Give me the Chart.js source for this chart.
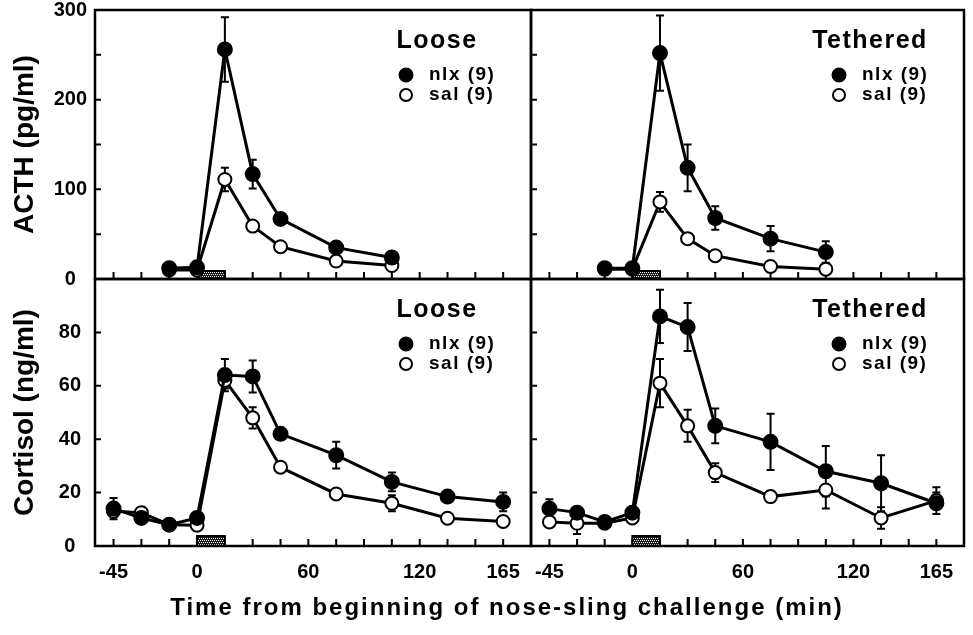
<!DOCTYPE html>
<html>
<head>
<meta charset="utf-8">
<script src="https://cdn.jsdelivr.net/npm/chart.js@4/dist/chart.umd.min.js"></script>
<style>
  html, body { margin: 0; padding: 0; background: #fff; }
  #figure { position: relative; width: 973px; height: 635px; }
  #figure canvas { position: absolute; left: 0; top: 0; }
</style>
</head>
<body>
<div id="figure">
  <canvas id="acthLoose" width="973" height="635"></canvas>
  <canvas id="acthTethered" width="973" height="635"></canvas>
  <canvas id="cortLoose" width="973" height="635"></canvas>
  <canvas id="cortTethered" width="973" height="635"></canvas>
</div>
<script>
// sampling times (min from start of nose-sling)
const acthTimes = [-15, 0, 15, 30, 45, 75, 105];
const cortTimes = [-45, -30, -15, 0, 15, 30, 45, 75, 105, 135, 165];
const xTickValues = [-45, -30, -15, 0, 15, 30, 45, 60, 75, 90, 105, 120, 135, 150, 165];
const xLabelValues = [-45, 0, 60, 120, 165];
const slingWindow = [0, 15];

// ACTH, pg/ml (mean and SEM)
const acthLooseNlx = [12, 13, 256, 117, 67, 35, 24];
const acthLooseNlxSem = [2, 2, 36, 16, 4, 3, 3];
const acthLooseSal = [10, 10, 111, 59, 36, 20, 15];
const acthLooseSalSem = [2, 2, 13, 4, 3, 2, 2];
const acthTethNlx = [12, 12, 252, 124, 68, 45, 30];
const acthTethNlxSem = [2, 2, 42, 26, 13, 14, 12];
const acthTethSal = [11, 11, 86, 45, 26, 14, 11];
const acthTethSalSem = [2, 2, 11, 4, 3, 2, 2];

// cortisol, ng/ml (mean and SEM)
const cortLooseNlx = [14, 10.5, 8, 10.5, 64, 63.5, 42, 34, 24, 18.5, 16.5];
const cortLooseNlxSem = [4, 1.5, 1.5, 1.5, 6, 6, 1.5, 5, 3.5, 1.5, 3.5];
const cortLooseSal = [13, 12.5, 8, 7.8, 62, 48, 29.5, 19.5, 16, 10.4, 9.2];
const cortLooseSalSem = [2, 1.5, 1, 1, 3, 4, 1.5, 1.5, 3, 1.5, 2];
const cortTethNlx = [14, 12.5, 9, 12.5, 86, 82, 45, 39, 28, 23.5, 16];
const cortTethNlxSem = [3.5, 1.5, 1.5, 1.5, 10, 9, 6.5, 10.5, 9.5, 10.5, 4];
const cortTethSal = [9, 8.5, 8.5, 10.5, 61, 45, 27.5, 18.5, 21, 10.5, 17];
const cortTethSalSem = [1.5, 4, 1, 1.5, 9, 6, 3.5, 1.5, 7, 4, 5];

const fontFamily = "'Liberation Sans', Arial, Helvetica, sans-serif";

// stippled fill for the sling bar
const stipple = (() => {
  const c = document.createElement('canvas');
  c.width = 4; c.height = 4;
  const g = c.getContext('2d');
  g.fillStyle = '#1a1a1a';
  g.fillRect(0, 0, 4, 4);
  g.fillStyle = '#fff';
  [[0, 0], [2, 0], [1, 2], [3, 2]].forEach(([px, py]) => g.fillRect(px, py, 1, 1));
  return c;
})();

const panelDecor = {
  id: 'panelDecor',
  beforeDatasetsDraw(chart, args, opts) {
    const { ctx, chartArea: a, scales: { x, y } } = chart;
    ctx.save();
    ctx.strokeStyle = '#000';
    ctx.lineCap = 'butt';

    // inward tick marks
    ctx.lineWidth = 2;
    ctx.beginPath();
    xTickValues.forEach(v => {
      const px = x.getPixelForValue(v);
      ctx.moveTo(px, a.bottom);
      ctx.lineTo(px, a.bottom - 7);
    });
    y.ticks.forEach(t => {
      const py = y.getPixelForValue(t.value);
      ctx.moveTo(a.left, py);
      ctx.lineTo(a.left + 6, py);
    });
    ctx.stroke();

    // sling bar on the time axis
    const x0 = x.getPixelForValue(slingWindow[0]);
    const x1 = x.getPixelForValue(slingWindow[1]);
    const h = opts.barHeight;
    ctx.fillStyle = ctx.createPattern(stipple, 'repeat');
    ctx.fillRect(x0, a.bottom - h, x1 - x0, h);
    ctx.lineWidth = 2;
    ctx.strokeRect(x0, a.bottom - h, x1 - x0, h);

    // SEM bars
    ctx.lineWidth = 2;
    ctx.beginPath();
    chart.data.datasets.forEach(ds => {
      ds.data.forEach((p, i) => {
        const e = ds.sem[i];
        if (!e) return;
        const px = x.getPixelForValue(p.x);
        const top = y.getPixelForValue(p.y + e);
        const bot = y.getPixelForValue(Math.max(0, p.y - e));
        ctx.moveTo(px, top); ctx.lineTo(px, bot);
        ctx.moveTo(px - 4, top); ctx.lineTo(px + 4, top);
        ctx.moveTo(px - 4, bot); ctx.lineTo(px + 4, bot);
      });
    });
    ctx.stroke();

    // panel frame
    ctx.lineWidth = 2.5;
    ctx.strokeRect(a.left, a.top, a.right - a.left, a.bottom - a.top);
    ctx.restore();
  },
  afterDraw(chart, args, opts) {
    const { ctx, chartArea: a } = chart;
    const mx = a.right - 125;
    ctx.save();
    ctx.fillStyle = '#000';
    ctx.textBaseline = 'middle';

    ctx.letterSpacing = '1.5px';
    ctx.font = 'bold 25px ' + fontFamily;
    ctx.textAlign = 'center';
    ctx.fillText(opts.title, mx + 31, a.top + 31);

    ctx.font = 'bold 19px ' + fontFamily;
    ctx.textAlign = 'left';
    chart.data.datasets.forEach((ds, i) => {
      const ly = a.top + 65 + i * 20;
      ctx.beginPath();
      ctx.arc(mx, ly, ds.pointRadius - 0.5, 0, Math.PI * 2);
      ctx.fillStyle = ds.pointBackgroundColor;
      ctx.fill();
      ctx.lineWidth = ds.pointBorderWidth;
      ctx.strokeStyle = '#000';
      ctx.stroke();
      ctx.fillStyle = '#000';
      ctx.fillText(ds.label, mx + 23, ly);
    });

    if (opts.xTitle) {
      ctx.letterSpacing = '2px';
      ctx.font = 'bold 24px ' + fontFamily;
      ctx.textAlign = 'center';
      ctx.fillText(opts.xTitle, 507, 608);
    }
    ctx.restore();
  }
};

function series(label, times, values, sem, filled) {
  return {
    label,
    data: times.map((t, i) => ({ x: t, y: values[i] })),
    sem,
    borderColor: '#000',
    borderWidth: 3,
    pointRadius: filled ? 7 : 6.5,
    pointBackgroundColor: filled ? '#000' : '#fff',
    pointBorderColor: '#000',
    pointBorderWidth: 2,
    tension: 0,
    clip: false
  };
}

function makePanel(id, cfg) {
  const yAxis = {
    type: 'linear',
    display: cfg.showY,
    min: 0,
    max: cfg.yMax,
    grid: { display: false, drawTicks: false },
    border: { display: false },
    ticks: {
      stepSize: cfg.yStep,
      color: '#000',
      font: { family: fontFamily, size: 20, weight: 'bold' },
      crossAlign: 'center',
      padding: cfg.yPad,
      callback: v => (cfg.yLabels.includes(v) ? String(v) : '')
    },
    title: {
      display: cfg.showY,
      text: cfg.yTitle,
      color: '#000',
      font: { family: fontFamily, size: 28, weight: 'bold' },
      padding: { top: 8, bottom: 0 }
    },
    afterFit: s => {
      if (!cfg.showY) return;
      s.width = cfg.area.left;
      s.paddingTop = 0;
      s.paddingBottom = 0;
    }
  };
  const xAxis = {
    type: 'linear',
    display: cfg.showX,
    min: -55,
    max: 180,
    grid: { display: false, drawTicks: false },
    border: { display: false },
    afterBuildTicks: s => { s.ticks = xTickValues.map(v => ({ value: v })); },
    ticks: {
      autoSkip: false,
      maxRotation: 0,
      color: '#000',
      padding: 14,
      font: { family: fontFamily, size: 20, weight: 'bold' },
      callback: v => (xLabelValues.includes(v) ? String(v) : '')
    },
    afterFit: s => {
      if (!cfg.showX) return;
      s.height = 635 - cfg.area.bottom;
      s.paddingLeft = 0;
      s.paddingRight = 0;
    }
  };
  return new Chart(document.getElementById(id), {
    type: 'line',
    data: {
      datasets: [
        series('nlx (9)', cfg.times, cfg.nlx, cfg.nlxSem, true),
        series('sal (9)', cfg.times, cfg.sal, cfg.salSem, false)
      ]
    },
    options: {
      responsive: false,
      animation: false,
      events: [],
      layout: {
        padding: {
          left: cfg.showY ? 0 : cfg.area.left,
          top: cfg.area.top,
          right: 973 - cfg.area.right,
          bottom: cfg.showX ? 0 : 635 - cfg.area.bottom
        }
      },
      scales: { x: xAxis, y: yAxis },
      plugins: {
        legend: { display: false },
        tooltip: { enabled: false },
        panelDecor: { title: cfg.title, barHeight: cfg.barHeight, xTitle: cfg.xTitle }
      }
    },
    plugins: [panelDecor]
  });
}

makePanel('acthLoose', {
  area: { left: 95, top: 10, right: 531, bottom: 279 },
  showX: false, showY: true, title: 'Loose', yTitle: 'ACTH (pg/ml)',
  yMax: 300, yStep: 50, yLabels: [0, 100, 200, 300], yPad: 8, barHeight: 8,
  times: acthTimes, nlx: acthLooseNlx, nlxSem: acthLooseNlxSem, sal: acthLooseSal, salSem: acthLooseSalSem
});
makePanel('acthTethered', {
  area: { left: 531, top: 10, right: 969, bottom: 279 },
  showX: false, showY: false, title: 'Tethered', yTitle: '',
  yMax: 300, yStep: 50, yLabels: [], yPad: 8, barHeight: 8,
  times: acthTimes, nlx: acthTethNlx, nlxSem: acthTethNlxSem, sal: acthTethSal, salSem: acthTethSalSem
});
makePanel('cortLoose', {
  area: { left: 95, top: 279, right: 531, bottom: 546 },
  showX: true, showY: true, title: 'Loose', yTitle: 'Cortisol (ng/ml)',
  yMax: 100, yStep: 20, yLabels: [0, 20, 40, 60, 80], yPad: 14, barHeight: 10,
  xTitle: 'Time from beginning of nose-sling challenge (min)',
  times: cortTimes, nlx: cortLooseNlx, nlxSem: cortLooseNlxSem, sal: cortLooseSal, salSem: cortLooseSalSem
});
makePanel('cortTethered', {
  area: { left: 531, top: 279, right: 969, bottom: 546 },
  showX: true, showY: false, title: 'Tethered', yTitle: '',
  yMax: 100, yStep: 20, yLabels: [], yPad: 14, barHeight: 10,
  times: cortTimes, nlx: cortTethNlx, nlxSem: cortTethNlxSem, sal: cortTethSal, salSem: cortTethSalSem
});
</script>
</body>
</html>
